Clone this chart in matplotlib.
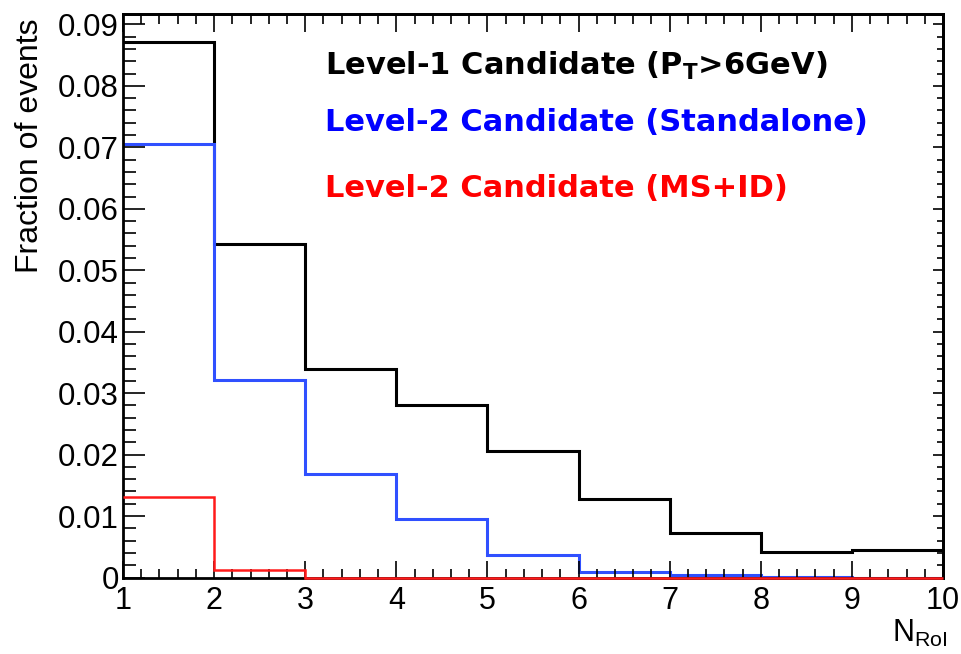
import matplotlib
matplotlib.use("Agg")
import matplotlib.pyplot as plt
import numpy as np
from matplotlib.ticker import MultipleLocator, FuncFormatter

plt.rcParams['font.family'] = ['Liberation Sans', 'DejaVu Sans']
plt.rcParams['mathtext.fontset'] = 'custom'
plt.rcParams['mathtext.rm'] = 'Liberation Sans'
plt.rcParams['mathtext.bf'] = 'DejaVu Sans:bold'
plt.rcParams['mathtext.it'] = 'Liberation Sans:italic'

# ---- data ----
bin_edges = [1, 2, 3, 4, 5, 6, 7, 8, 9, 10]
level1 = [0.0872, 0.0543, 0.0340, 0.0280, 0.0206, 0.01285, 0.0072, 0.0041, 0.0045]
level2_sa = [0.0706, 0.0321, 0.0168, 0.0096, 0.0036, 0.0009, 0.0004, 0.0001, 0.0]
level2_msid = [0.0131, 0.0012, 0.0, 0.0, 0.0, 0.0, 0.0, 0.0, 0.0]
labels = ['Level-1 Candidate (P$_\\mathbf{T}$>6GeV)',
          'Level-2 Candidate (Standalone)',
          'Level-2 Candidate (MS+ID)']
colors = ['black', '#3050ff', '#ff1a1a']
text_colors = ['black', '#0000ff', '#ff0000']

fig = plt.figure(figsize=(9.61, 6.54), dpi=100)
ax = fig.add_axes([123/961, 1-577.5/654, (943-123)/961, (577.5-14)/654])

ax.stairs(level1, bin_edges, color=colors[0], lw=2.2, baseline=None)
ax.stairs(level2_sa, bin_edges, color=colors[1], lw=2.2, baseline=None)
ax.stairs(level2_msid, bin_edges, color=colors[2], lw=1.8, baseline=None, clip_on=False, zorder=3)

ax.set_xlim(1, 10)
ax.set_ylim(0, 0.0917)

for s in ax.spines.values():
    s.set_linewidth(2.0)

ax.xaxis.set_major_locator(MultipleLocator(1))
ax.xaxis.set_minor_locator(MultipleLocator(0.2))
ax.yaxis.set_major_locator(MultipleLocator(0.01))
ax.yaxis.set_minor_locator(MultipleLocator(0.002))
ax.yaxis.set_major_formatter(FuncFormatter(lambda v, p: '0' if abs(v) < 1e-9 else f'{v:.2f}'))
ax.xaxis.set_major_formatter(FuncFormatter(lambda v, p: f'{int(round(v))}'))

ax.tick_params(axis='y', which='major', direction='in', length=16, width=1.2, labelsize=22.5, pad=3)
ax.tick_params(axis='y', which='minor', direction='in', length=9, width=1.2)
ax.tick_params(axis='x', which='major', direction='in', length=12.5, width=1.2, labelsize=22, pad=6)
ax.tick_params(axis='x', which='minor', direction='in', length=6.5, width=1.2)

# top and right ticks
axt = ax.secondary_xaxis('top')
axt.xaxis.set_major_locator(MultipleLocator(1))
axt.xaxis.set_minor_locator(MultipleLocator(0.2))
axt.tick_params(which='major', direction='in', length=13, width=1.2, labeltop=False)
axt.tick_params(which='minor', direction='in', length=7.5, width=1.2)
axr = ax.secondary_yaxis('right')
axr.yaxis.set_major_locator(MultipleLocator(0.01))
axr.yaxis.set_minor_locator(MultipleLocator(0.002))
axr.tick_params(which='major', direction='in', length=7.5, width=1.2, labelright=False)
axr.tick_params(which='minor', direction='in', length=4.5, width=1.2)
for a in (axt, axr):
    for s in a.spines.values():
        s.set_linewidth(2.0)

# legend-like texts
ys = [75, 131, 197]
for lab, c, y in zip(labels, text_colors, ys):
    fig.text(325/961, 1-y/654, lab, color=c, fontsize=22, fontweight='bold',
             family='DejaVu Sans', ha='left', va='baseline')

fig.text(30/961, 1-146/654, 'Fraction of events', rotation=90, fontsize=23,
         ha='center', va='center')
fig.text(892/961, 1-641.5/654, 'N$_{\\mathrm{RoI}}$', fontsize=22, ha='left', va='baseline')

fig.savefig('out.png', dpi=100)
